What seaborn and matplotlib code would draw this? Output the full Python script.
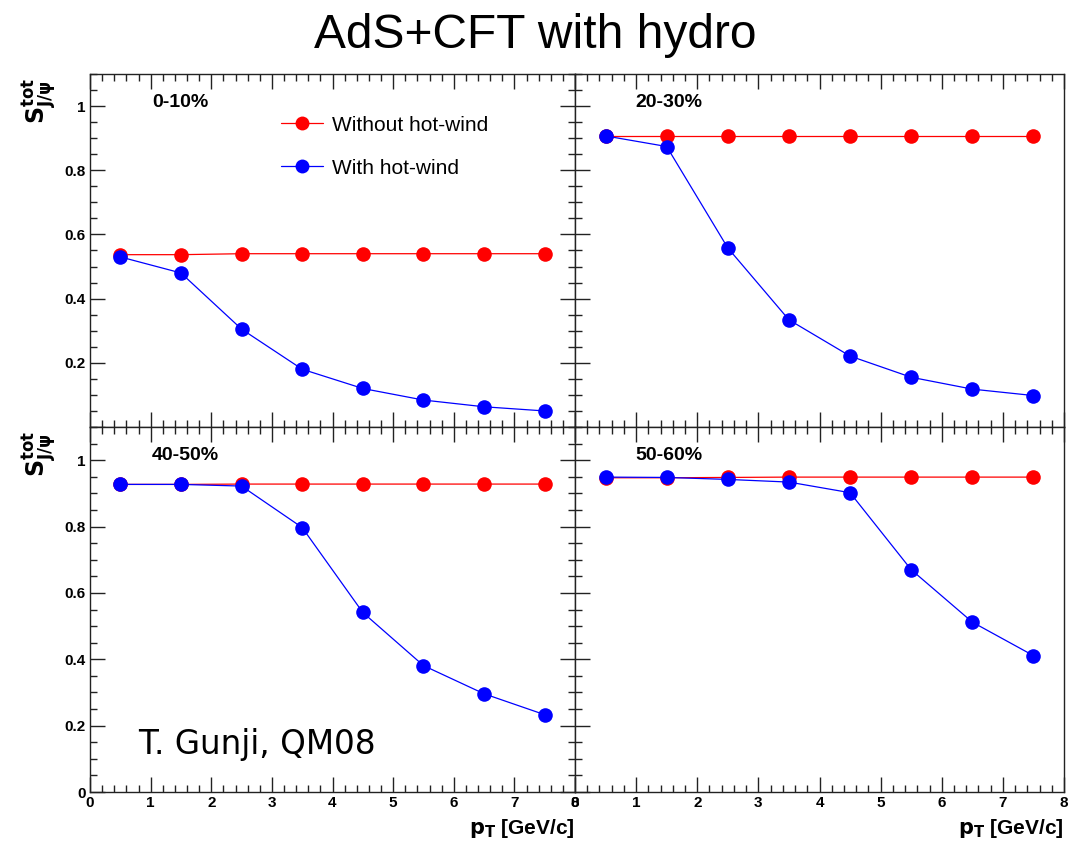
import numpy as np
import pandas as pd
import matplotlib
matplotlib.use("Agg")
import matplotlib.pyplot as plt
import seaborn as sns
from matplotlib.ticker import MultipleLocator
from matplotlib.lines import Line2D

sns.set_style("white")
plt.rcParams['font.family'] = ['Liberation Sans', 'DejaVu Sans']
plt.rcParams['text.color'] = 'black'
plt.rcParams['xtick.color'] = 'black'
plt.rcParams['ytick.color'] = 'black'
plt.rcParams['axes.labelcolor'] = 'black'

pt = [0.5, 1.5, 2.5, 3.5, 4.5, 5.5, 6.5, 7.5]
panels = ["0-10%", "20-30%", "40-50%", "50-60%"]
without_wind = [
    [0.537, 0.537, 0.540, 0.540, 0.540, 0.540, 0.540, 0.540],
    [0.907, 0.907, 0.907, 0.907, 0.907, 0.907, 0.907, 0.907],
    [0.927, 0.927, 0.928, 0.928, 0.928, 0.928, 0.928, 0.928],
    [0.947, 0.947, 0.948, 0.949, 0.949, 0.949, 0.949, 0.949],
]
with_wind = [
    [0.530, 0.480, 0.305, 0.180, 0.120, 0.084, 0.063, 0.050],
    [0.907, 0.874, 0.558, 0.334, 0.221, 0.155, 0.118, 0.098],
    [0.927, 0.927, 0.922, 0.797, 0.541, 0.381, 0.296, 0.233],
    [0.949, 0.948, 0.942, 0.934, 0.902, 0.670, 0.512, 0.411],
]
series_names = ["Without hot-wind", "With hot-wind"]
series_colors = ["#ff0000", "#0000ff"]

fig = plt.figure(figsize=(10.7, 8.47), dpi=100)
W, H = 1070, 847
boxes = [
    (90, 74, 575, 427),
    (575, 74, 1064, 427),
    (90, 427, 575, 792),
    (575, 427, 1064, 792),
]
axes = []
for (x0, y0, x1, y1) in boxes:
    ax = fig.add_axes([x0 / W, 1 - y1 / H, (x1 - x0) / W, (y1 - y0) / H])
    axes.append(ax)

for i, ax in enumerate(axes):
    df = pd.DataFrame({
        "pt": pt * 2,
        "S": without_wind[i] + with_wind[i],
        "series": [series_names[0]] * 8 + [series_names[1]] * 8,
    })
    sns.lineplot(data=df, x="pt", y="S", hue="series", palette=series_colors,
                 hue_order=series_names, marker="o", markersize=10.5,
                 markeredgewidth=0, linewidth=0.9, ax=ax, legend=False,
                 errorbar=None, sort=False)
    ax.set_xlim(0, 8)
    ax.set_ylim(0, 1.1)
    ax.set_xlabel("")
    ax.set_ylabel("")
    left_col = (i % 2 == 0)
    bottom_row = (i >= 2)
    ax.xaxis.set_major_locator(MultipleLocator(1))
    ax.xaxis.set_minor_locator(MultipleLocator(0.2))
    ax.yaxis.set_major_locator(MultipleLocator(0.2))
    ax.yaxis.set_minor_locator(MultipleLocator(0.05))
    ax.tick_params(which="both", direction="in", top=True, bottom=True,
                   left=True, right=left_col, color="#222222", width=1.0)
    ax.tick_params(which="major", length=11)
    ax.tick_params(which="minor", length=5)
    ax.tick_params(which="major", labelsize=11, pad=3)
    if not bottom_row:
        ax.set_xticklabels([])
    else:
        ax.set_xticks(range(0, 9))
        ax.set_xticklabels([str(v) for v in range(0, 9)], fontweight="bold")
    if left_col:
        yt = [0, 0.2, 0.4, 0.6, 0.8, 1.0]
        ax.set_yticks(yt)
        labs = ["0", "0.2", "0.4", "0.6", "0.8", "1"]
        if not bottom_row:
            labs[0] = ""
        ax.set_yticklabels(labs, fontweight="bold")
    else:
        ax.set_yticklabels([])
    for sp in ax.spines.values():
        sp.set_color("#222222")
        sp.set_linewidth(1.0)
    xf = 0.128 if left_col else 0.123
    yf = 0.918 if not bottom_row else 0.923
    ax.text(xf, yf, panels[i], transform=ax.transAxes, fontsize=14,
            fontweight="bold", ha="left", va="center")
    if left_col:
        ax.text(-0.105, 0.99, r"$\mathbf{S^{tot}_{J/\psi}}$", transform=ax.transAxes,
                rotation=90, fontsize=17, ha="center", va="top")
    if bottom_row:
        ax.text(1.0, -0.1, r"$\mathbf{p_{T}}$ [GeV/c]", transform=ax.transAxes,
                fontsize=15, fontweight="bold", ha="right", va="center")

handles = [Line2D([], [], color=c, marker="o", markersize=10, markeredgewidth=0,
                  linewidth=0.9) for c in series_colors]
axes[0].legend(handles, series_names, loc="upper left",
               bbox_to_anchor=(0.355, 0.935), frameon=False, fontsize=15,
               handlelength=2.0, labelspacing=1.15, handletextpad=0.45)

axes[2].text(0.1, 0.129, "T. Gunji, QM08", transform=axes[2].transAxes,
             fontsize=23.5, family=["DejaVu Sans"], ha="left", va="center")

fig.text(0.5, 1 - 35 / H, "AdS+CFT with hydro", fontsize=34.5,
         ha="center", va="center")

fig.savefig("out.png", dpi=100)
